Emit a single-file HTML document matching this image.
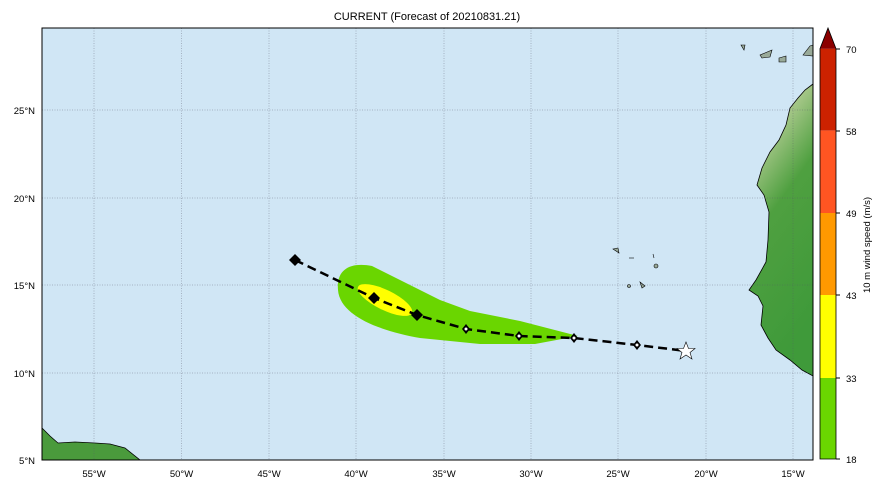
<!DOCTYPE html><html><head><style>body{margin:0;background:#fff}svg text{font-family:"Liberation Sans",sans-serif;font-size:9.5px;fill:#000}</style></head><body>
<svg width="883" height="488" xmlns="http://www.w3.org/2000/svg">
<text x="427" y="20" text-anchor="middle" style="font-size:11px">CURRENT (Forecast of 20210831.21)</text>
<rect x="42" y="28" width="771" height="432" fill="#d0e6f5"/>
<defs><linearGradient id="lg" x1="0" y1="0" x2="0.3" y2="1"><stop offset="0" stop-color="#b8d49a"/><stop offset="0.25" stop-color="#a8c88a"/><stop offset="0.5" stop-color="#4fa040"/><stop offset="1" stop-color="#3f9a3a"/></linearGradient></defs>
<path d="M813,84 L805,90 L798,98 L790,108 L786,125 L779,140 L770,152 L762,168 L757,185 L764,195 L769,212 L768,240 L766,262 L756,280 L749,290 L758,296 L763,306 L761,325 L768,338 L776,350 L790,360 L802,370 L813,376 Z" fill="url(#lg)" stroke="#000" stroke-width="0.8"/>
<path d="M42,428 L50,436 L58,443 L75,442 L95,443 L110,444 L125,448 L140,460 L42,460 Z" fill="#4a9a3c" stroke="#000" stroke-width="0.8"/>
<g fill="#9a9" stroke="#000" stroke-width="0.6"><path d="M760,55 L772,50 L770,57 L762,58Z"/><path d="M779,58 L786,56 L786,62 L779,62Z"/><path d="M803,55 L810,46 L813,45 L813,56Z"/><path d="M741,45 L745,45 L744,50Z"/><path d="M613,249 L618,248 L619,253Z"/><path d="M640,282 L645,286 L642,288Z"/><circle cx="629" cy="286" r="1.5"/><circle cx="656" cy="266" r="2"/><path d="M629,258 L634,258"/><path d="M653,254 L654,258"/></g>
<g stroke="#556" stroke-width="0.5" stroke-dasharray="1,1.5" opacity="0.7">
<line x1="94" y1="28" x2="94" y2="460"/><line x1="181.5" y1="28" x2="181.5" y2="460"/><line x1="269" y1="28" x2="269" y2="460"/><line x1="356" y1="28" x2="356" y2="460"/><line x1="444" y1="28" x2="444" y2="460"/><line x1="531" y1="28" x2="531" y2="460"/><line x1="618" y1="28" x2="618" y2="460"/><line x1="706" y1="28" x2="706" y2="460"/><line x1="793" y1="28" x2="793" y2="460"/>
<line x1="42" y1="110" x2="813" y2="110"/><line x1="42" y1="198" x2="813" y2="198"/><line x1="42" y1="285" x2="813" y2="285"/><line x1="42" y1="373" x2="813" y2="373"/></g>
<path d="M338,290 C336,268 352,262 372,266 L440,300 L470,311 L520,321 L578,336 L535,344 L480,344 L420,338 C380,331 340,316 338,290 Z" fill="#6ad600"/>
<ellipse cx="385" cy="300" rx="30" ry="10" transform="rotate(26 385 300)" fill="#ffff00"/>
<polyline points="295,260 374,298 417,315 466,329 519,336 574,338 637,345 686,351" fill="none" stroke="#000" stroke-width="2.5" stroke-dasharray="9,5"/>
<g fill="#000"><path d="M295,254 L301,260 L295,266 L289,260Z"/><path d="M374,292 L380,298 L374,304 L368,298Z"/><path d="M417,309 L423,315 L417,321 L411,315Z"/></g>
<g fill="#000"><path d="M466,324 L470,329 L466,334 L462,329Z"/><path d="M519,331 L523,336 L519,341 L515,336Z"/><path d="M574,333 L578,338 L574,343 L570,338Z"/><path d="M637,340 L641,345 L637,350 L633,345Z"/></g>
<g fill="#fff"><circle cx="466" cy="329" r="1.5"/><circle cx="519" cy="336" r="1.5"/><circle cx="574" cy="338" r="1.5"/><circle cx="637" cy="345" r="1.5"/></g>
<path d="M686,342 L688.5,348.5 L695,348.5 L690,352.5 L692,359 L686,355 L680,359 L682,352.5 L677,348.5 L683.5,348.5Z" fill="#fff" stroke="#000" stroke-width="0.6"/>
<rect x="42" y="28" width="771" height="432" fill="none" stroke="#000" stroke-width="1"/>
<g text-anchor="middle"><text x="94" y="477">55°W</text><text x="181.5" y="477">50°W</text><text x="269" y="477">45°W</text><text x="356" y="477">40°W</text><text x="444" y="477">35°W</text><text x="531" y="477">30°W</text><text x="618" y="477">25°W</text><text x="706" y="477">20°W</text><text x="793" y="477">15°W</text></g>
<g text-anchor="end"><text x="35" y="114">25°N</text><text x="35" y="202">20°N</text><text x="35" y="289">15°N</text><text x="35" y="377">10°N</text><text x="35" y="464">5°N</text></g>
<rect x="820" y="48.7" width="16" height="82" fill="#cc2200"/><rect x="820" y="130.7" width="16" height="82.3" fill="#ff5522"/><rect x="820" y="213" width="16" height="82" fill="#ff9900"/><rect x="820" y="295" width="16" height="83" fill="#ffff00"/><rect x="820" y="378" width="16" height="81" fill="#6ad600"/>
<path d="M820,48.7 L828,28 L836,48.7Z" fill="#8b0000"/>
<path d="M820,48.7 L828,28 L836,48.7 L836,459 L820,459Z" fill="none" stroke="#000" stroke-width="0.8"/>
<g><line x1="836" y1="49" x2="840" y2="49" stroke="#000"/><line x1="836" y1="131" x2="840" y2="131" stroke="#000"/><line x1="836" y1="213" x2="840" y2="213" stroke="#000"/><line x1="836" y1="295" x2="840" y2="295" stroke="#000"/><line x1="836" y1="378" x2="840" y2="378" stroke="#000"/><line x1="836" y1="459" x2="840" y2="459" stroke="#000"/>
<text x="846" y="53">70</text><text x="846" y="135">58</text><text x="846" y="217">49</text><text x="846" y="299">43</text><text x="846" y="382">33</text><text x="846" y="463">18</text></g>
<text transform="translate(870,245) rotate(-90)" text-anchor="middle">10 m wind speed (m/s)</text>
</svg></body></html>
